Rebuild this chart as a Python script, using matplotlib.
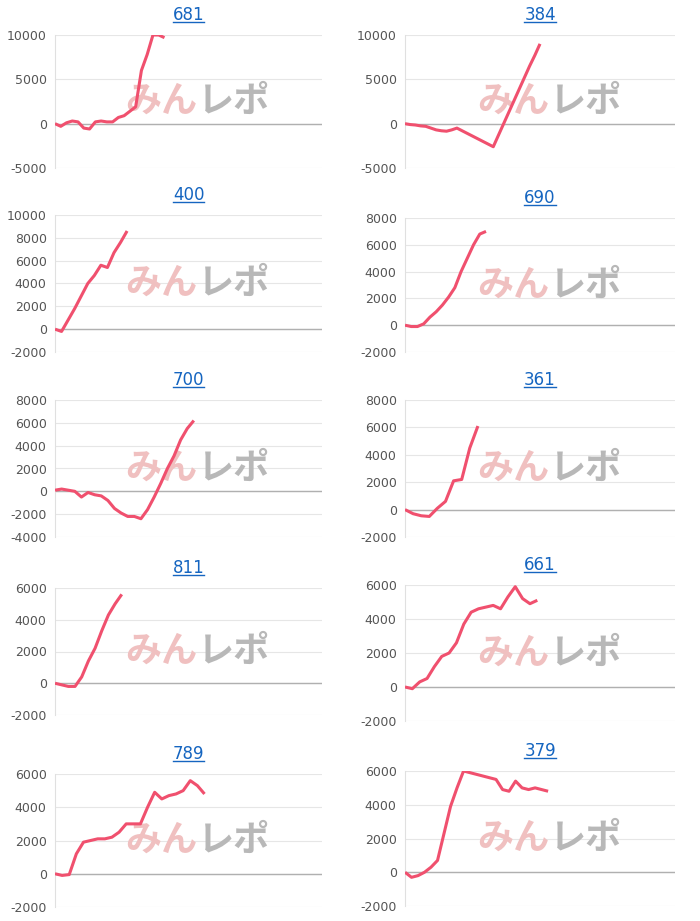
import matplotlib
matplotlib.use("Agg")
import matplotlib.pyplot as plt

titles = ["681", "384", "400", "690", "700", "361", "811", "661", "789", "379"]
v681 = [0, -300, 100, 300, 200, -500, -600, 200, 300, 200, 200, 700, 900, 1400, 1900, 6000, 7800, 10000, 10000, 9700]
v384 = [0, -100, -150, -250, -300, -500, -700, -800, -850, -700, -500, -800, -1100, -1400, -1700, -2000, -2300, -2600,
        -1300, 0, 1300, 2600, 3900, 5200, 6500, 7700, 9000]
v400 = [0, -200, 800, 1800, 2900, 4000, 4700, 5600, 5400, 6700, 7600, 8600]
v690 = [0, -100, -100, 100, 600, 1000, 1500, 2100, 2800, 4000, 5000, 6000, 6800, 7000]
v700 = [100, 200, 100, 0, -500, -100, -300, -400, -800, -1500, -1900, -2200, -2200, -2400, -1600, -500, 700, 2000,
        3100, 4500, 5500, 6200]
v361 = [0, -300, -450, -500, 100, 600, 2100, 2200, 4500, 6100]
v811 = [0, -100, -200, -200, 400, 1400, 2200, 3300, 4300, 5000, 5600]
v661 = [0, -100, 300, 500, 1200, 1800, 2000, 2600, 3700, 4400, 4600, 4700, 4800, 4600, 5300, 5900, 5200, 4900, 5100]
v789 = [0, -100, -50, 1200, 1900, 2000, 2100, 2100, 2200, 2500, 3000, 3000, 3000, 4000, 4900, 4500, 4700, 4800,
        5000, 5600, 5300, 4800]
v379 = [0, -300, -200, 0, 300, 700, 2300, 3900, 5000, 6000, 5900, 5800, 5700, 5600, 5500, 4900, 4800, 5400, 5000,
        4900, 5000, 4900, 4800]
series = [v681, v384, v400, v690, v700, v361, v811, v661, v789, v379]
yticks = [[-5000, 0, 5000, 10000], [-5000, 0, 5000, 10000], [-2000, 0, 2000, 4000, 6000, 8000, 10000],
          [-2000, 0, 2000, 4000, 6000, 8000], [-4000, -2000, 0, 2000, 4000, 6000, 8000],
          [-2000, 0, 2000, 4000, 6000, 8000], [-2000, 0, 2000, 4000, 6000], [-2000, 0, 2000, 4000, 6000],
          [-2000, 0, 2000, 4000, 6000], [-2000, 0, 2000, 4000, 6000]]
frac = [0.41, 0.5, 0.27, 0.3, 0.52, 0.27, 0.25, 0.49, 0.56, 0.53]

W, H = 700, 921
fig = plt.figure(figsize=(7, 9.21), dpi=100)
rows = [(35, 168, 35, 168), (215, 352, 218, 352), (400, 537, 400, 537), (588, 715, 585, 721), (774, 907, 771, 906)]
for i in range(10):
    r = rows[i // 2]
    if i % 2 == 0:
        x0, w, top, bot = 55, 267, r[0], r[1]
    else:
        x0, w, top, bot = 405, 270, r[2], r[3]
    ax = fig.add_axes([x0 / W, 1 - bot / H, w / W, (bot - top) / H])
    v = series[i]
    ax.plot(range(len(v)), v, color="#f0506e", lw=2.2, zorder=5, solid_capstyle="butt")
    ax.set_xlim(0, (len(v) - 1) / frac[i])
    yt = yticks[i]
    ax.set_ylim(yt[0], yt[-1])
    ax.set_yticks(yt)
    ax.set_yticklabels([str(t) for t in yt])
    ax.set_xticks([])
    ax.grid(axis="y", color="#e6e6e6", lw=0.8)
    ax.axhline(0, color="#b0b0b0", lw=1, zorder=2)
    for s in ["top", "right", "bottom"]:
        ax.spines[s].set_visible(False)
    ax.spines["left"].set_color("#e0e0e0")
    ax.tick_params(axis="y", length=0, labelsize=9, labelcolor="#555555", pad=6)
    ax.set_title(titles[i], color="#1565c0", fontsize=12, pad=11)
    ax.text(0.535, 0.5, "みん", transform=ax.transAxes, ha="right", va="center", fontsize=26,
            fontweight="bold", color="#f0c0c0", family=["Noto Sans CJK JP"], zorder=3)
    ax.text(0.535, 0.5, "レポ", transform=ax.transAxes, ha="left", va="center", fontsize=26,
            fontweight="bold", color="#b8b8b8", family=["Noto Sans CJK JP"], zorder=3)

fig.canvas.draw()
for ax in fig.axes:
    bb = ax.title.get_window_extent().transformed(fig.transFigure.inverted())
    fig.add_artist(plt.Line2D([bb.x0, bb.x1], [bb.y0 + 0.002, bb.y0 + 0.002], color="#1565c0", lw=1,
                              transform=fig.transFigure))
fig.savefig("out.png", dpi=100)
